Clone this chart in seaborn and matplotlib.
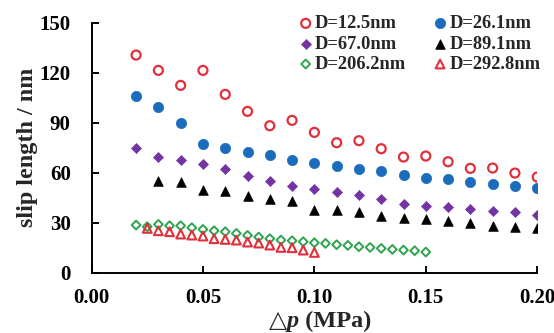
import seaborn as sns
import matplotlib.pyplot as plt
from matplotlib.offsetbox import TextArea, HPacker, AnchoredOffsetbox
import numpy as np

# Data
x_main = [0.02, 0.03, 0.04, 0.05, 0.06, 0.07, 0.08, 0.09, 0.10, 0.11,
          0.12, 0.13, 0.14, 0.15, 0.16, 0.17, 0.18, 0.19, 0.20]
y_12_5 = [130.6, 121.4, 112.4, 121.4, 107.0, 96.8, 88.2, 91.4, 84.2, 78.0,
          79.2, 74.4, 69.4, 70.0, 66.6, 62.6, 62.8, 59.8, 57.4]
y_26_1 = [106.2, 99.6, 90.0, 77.4, 74.8, 72.4, 70.4, 67.8, 66.0, 64.0,
          62.0, 61.0, 58.8, 57.0, 56.0, 54.4, 53.2, 52.0, 50.8]
y_67_0 = [74.6, 69.4, 67.6, 65.4, 62.2, 57.8, 55.2, 52.0, 50.2, 48.4,
          46.6, 44.0, 41.4, 40.2, 39.4, 38.2, 37.0, 36.2, 34.8]
x_89_1 = [0.03, 0.04, 0.05, 0.06, 0.07, 0.08, 0.09, 0.10, 0.11,
          0.12, 0.13, 0.14, 0.15, 0.16, 0.17, 0.18, 0.19, 0.20]
y_89_1 = [55.2, 54.4, 49.6, 49.0, 45.8, 44.4, 43.0, 37.5, 37.6,
          36.2, 34.2, 33.0, 32.4, 31.2, 29.6, 28.0, 27.6, 27.0]
x_206_2 = [0.020, 0.025, 0.030, 0.035, 0.040, 0.045, 0.050, 0.055, 0.060,
           0.065, 0.070, 0.075, 0.080, 0.085, 0.090, 0.095, 0.100, 0.105,
           0.110, 0.115, 0.120, 0.125, 0.130, 0.135, 0.140, 0.145, 0.150]
y_206_2 = [28.6, 27.6, 29.0, 28.2, 28.2, 27.0, 26.0, 25.2, 24.6,
           23.6, 22.4, 21.4, 20.4, 19.6, 19.2, 18.6, 18.0, 17.6,
           16.8, 16.4, 15.6, 15.2, 14.6, 14.0, 13.6, 13.2, 12.4]
x_292_8 = [0.025, 0.030, 0.035, 0.040, 0.045, 0.050, 0.055, 0.060,
           0.065, 0.070, 0.075, 0.080, 0.085, 0.090, 0.095, 0.100]
y_292_8 = [26.6, 25.2, 24.6, 23.2, 22.6, 22.0, 20.4, 20.0,
           19.6, 18.4, 17.8, 16.6, 15.2, 15.0, 13.6, 12.2]

sns.set_style('ticks')
plt.rcParams['font.family'] = ['Liberation Serif', 'DejaVu Sans']
plt.rcParams['font.weight'] = 'bold'

fig = plt.figure(figsize=(5.54, 3.33), dpi=100)
ax = fig.add_axes([0.1652, 0.181, 0.8045, 0.7508])

red = '#e0303c'
blue = '#1b6cbc'
purple = '#7434a4'
green = '#2ea44f'

# column-wise order so the 2-column legend reads row by row like the original
sns.scatterplot(x=x_main, y=y_12_5, ax=ax, marker='o', s=42, facecolor='none',
                edgecolor=red, linewidth=1.6, label='D=12.5nm')
sns.scatterplot(x=x_main, y=y_67_0, ax=ax, marker='D', s=26, color=purple,
                edgecolor=purple, linewidth=0.5, label='D=67.0nm')
sns.scatterplot(x=x_206_2, y=y_206_2, ax=ax, marker='D', s=20, facecolor='none',
                edgecolor=green, linewidth=1.4, label='D=206.2nm')
sns.scatterplot(x=x_main, y=y_26_1, ax=ax, marker='o', s=55, color=blue,
                edgecolor=blue, linewidth=0.5, label='D=26.1nm')
sns.scatterplot(x=x_89_1, y=y_89_1, ax=ax, marker='^', s=48, color='black',
                edgecolor='black', linewidth=0.5, label='D=89.1nm')
sns.scatterplot(x=x_292_8, y=y_292_8, ax=ax, marker='^', s=40, facecolor='none',
                edgecolor=red, linewidth=1.5, label='D=292.8nm')

ax.set_xlim(0, 0.20)
ax.set_ylim(0, 150)
ax.set_xticks(np.arange(0, 0.201, 0.05))
ax.set_yticks(np.arange(0, 151, 30))
ax.set_xticklabels(['0.00', '0.05', '0.10', '0.15', '0.20'])
ax.tick_params(direction='in', length=5, width=1.4, labelsize=15, colors='black')
ax.tick_params(axis='x', pad=11)
ax.tick_params(axis='y', pad=15)
for lbl in ax.get_xticklabels() + ax.get_yticklabels():
    lbl.set_fontweight('bold')
sns.despine(ax=ax)
for side in ['left', 'bottom']:
    ax.spines[side].set_linewidth(1.4)
    ax.spines[side].set_color('black')

ax.set_ylabel('slip length / nm', fontsize=17.4, fontweight='bold', labelpad=1)

# x label: triangle + italic p + (MPa), put together piece by piece
xlab = HPacker(children=[
    TextArea('\u25b3', textprops=dict(family='DejaVu Sans', size=17, weight='normal')),
    TextArea('p', textprops=dict(family='Liberation Serif', size=17.5,
                                 style='italic', weight='bold')),
    TextArea(' (MPa)', textprops=dict(family='Liberation Serif', size=17.5,
                                      weight='bold')),
], align='baseline', pad=0, sep=0)
ax.add_artist(AnchoredOffsetbox(loc='upper center', child=xlab, pad=0, borderpad=0,
                                frameon=False, bbox_to_anchor=(0.578, 0.075),
                                bbox_transform=fig.transFigure))

ax.legend(loc='upper left', bbox_to_anchor=(0.464, 1.03), ncol=2, frameon=False,
          handletextpad=0.1, handlelength=0.8, columnspacing=1.44,
          labelspacing=0.18, borderaxespad=0, borderpad=0,
          prop={'weight': 'bold', 'size': 13.3})

fig.savefig('out.png', dpi=100)
